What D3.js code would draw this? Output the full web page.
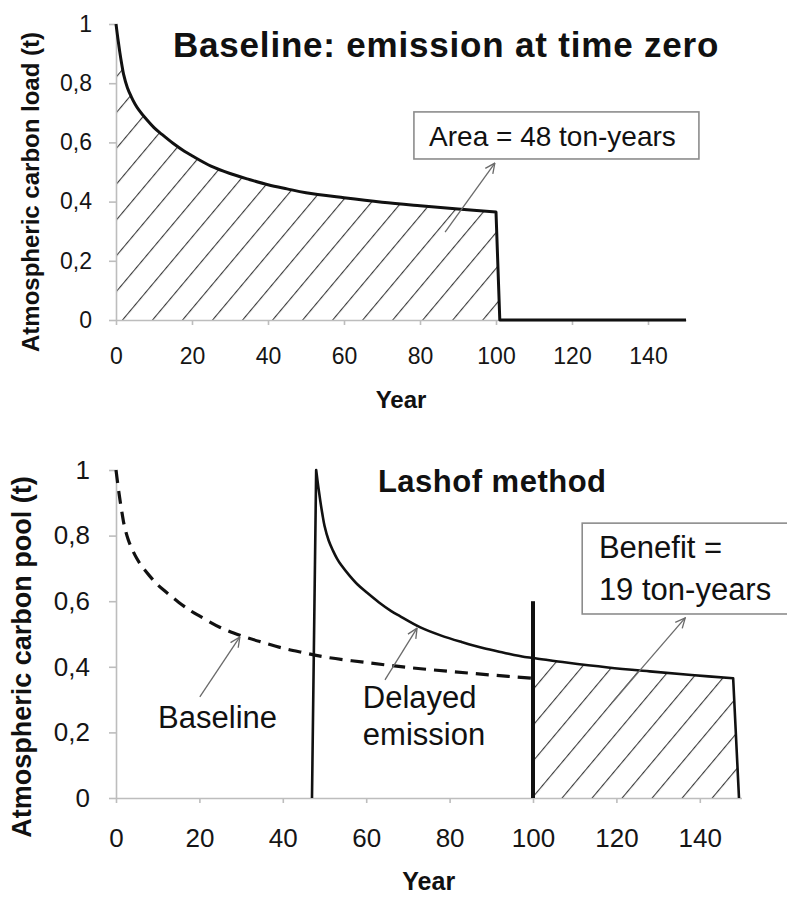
<!DOCTYPE html>
<html><head><meta charset="utf-8">
<script src="https://cdn.jsdelivr.net/npm/d3@7"></script>
<style>
html,body{margin:0;padding:0;background:#fff;}
svg{display:block;}
text{font-family:"Liberation Sans",Arial,sans-serif;}
</style></head>
<body>
<script>
// ---- data ----
const baselineYears  = [0, 0.5, 1, 1.5, 2, 3, 4, 5, 6, 8, 10, 12, 15, 18, 20, 25, 30, 35, 40, 45, 50, 60, 70, 80, 90, 100];
const baselineValues = [1.0, 0.95, 0.905, 0.865, 0.83, 0.785, 0.755, 0.73, 0.71, 0.678, 0.65, 0.628, 0.597, 0.57, 0.555, 0.52, 0.495, 0.475, 0.457, 0.443, 0.43, 0.413, 0.398, 0.386, 0.375, 0.365];
const baselineEndYear = 101;      // load returns to zero
const topAxisEndYear = 150;

const delayedRiseYears  = [47, 48];
const delayedRiseValues = [0, 1.0];
const delayedYears  = [48, 48.5, 49, 49.5, 50, 51, 52, 53, 54, 56, 58, 60, 63, 66, 68, 73, 78, 83, 88, 93, 98, 100, 108, 118, 128, 138, 148];
const delayedValues = [1.0, 0.95, 0.905, 0.865, 0.83, 0.785, 0.755, 0.73, 0.71, 0.678, 0.65, 0.628, 0.597, 0.57, 0.555, 0.52, 0.495, 0.475, 0.457, 0.443, 0.43, 0.427, 0.413, 0.398, 0.386, 0.375, 0.365];
const delayedEndYear = 149.4;
const cutoffYear = 100;            // end of time horizon
const cutoffMarkValue = 0.6;

const xTickValues = [0, 20, 40, 60, 80, 100, 120, 140];
const xTickLabels = ["0", "20", "40", "60", "80", "100", "120", "140"];
const yTickValues = [0, 0.2, 0.4, 0.6, 0.8, 1];
const yTickLabels = ["0", "0,2", "0,4", "0,6", "0,8", "1"];

const topTitle = "Baseline: emission at time zero";
const botTitle = "Lashof method";
const topYLabel = "Atmospheric carbon load (t)";
const botYLabel = "Atmospheric carbon pool (t)";
const xLabel = "Year";
const areaLabel = "Area = 48 ton-years";
const benefitLabel = ["Benefit =", "19 ton-years"];
const baselineLabel = "Baseline";
const delayedLabel = ["Delayed", "emission"];

// ---- layout ----
const W = 787, H = 897;
const svg = d3.select("body").append("svg").attr("width", W).attr("height", H);
const defs = svg.append("defs");

const hatch = defs.append("pattern").attr("id", "hatch").attr("patternUnits", "userSpaceOnUse")
  .attr("width", 23).attr("height", 20).attr("patternTransform", "rotate(40)");
hatch.append("line").attr("x1", 0).attr("y1", -5).attr("x2", 0).attr("y2", 25)
  .attr("stroke", "#3a3a3a").attr("stroke-width", 2.2);

const marker = defs.append("marker").attr("id", "arrow").attr("viewBox", "0 0 10 10")
  .attr("refX", 9.5).attr("refY", 5).attr("markerWidth", 11).attr("markerHeight", 11)
  .attr("markerUnits", "userSpaceOnUse").attr("orient", "auto");
marker.append("path").attr("d", "M0.5,0.8 L9.5,5 L0.5,9.2").attr("fill", "none")
  .attr("stroke", "#6a6a6a").attr("stroke-width", 1.2);

const baseline = baselineYears.map((t, i) => ({t, v: baselineValues[i]}));
const delayed = delayedYears.map((t, i) => ({t, v: delayedValues[i]}));
const rise = delayedRiseYears.map((t, i) => ({t, v: delayedRiseValues[i]}));

const smooth = d3.curveCatmullRom.alpha(0.5);

function drawAxes(g, x, y, o) {
  const ax = g.append("g").attr("transform", `translate(0,${y(0)})`)
    .call(d3.axisBottom(x).tickValues(xTickValues).tickFormat((d, i) => xTickLabels[i])
      .tickSizeOuter(0).tickSizeInner(5).tickPadding(o.xPad));
  const ay = g.append("g").attr("transform", `translate(${x(0)},0)`)
    .call(d3.axisLeft(y).tickValues(yTickValues).tickFormat((d, i) => yTickLabels[i])
      .tickSizeOuter(0).tickSizeInner(7).tickPadding(o.yPad));
  [ax, ay].forEach(a => {
    a.select(".domain").attr("stroke", "#bdbdbd").attr("stroke-width", 1.6);
    a.selectAll(".tick line").attr("stroke", "#bdbdbd").attr("stroke-width", 1.6);
    a.selectAll(".tick text").attr("fill", "#151515").style("font-size", o.fs + "px")
      .style("font-family", '"Liberation Sans",Arial,sans-serif');
  });
}

function arrow(g, x, y, a) {
  g.append("line").attr("x1", x(a[0])).attr("y1", y(a[1])).attr("x2", x(a[2])).attr("y2", y(a[3]))
    .attr("stroke", "#6a6a6a").attr("stroke-width", 1.3).attr("marker-end", "url(#arrow)");
}

// ================= TOP CHART =================
const xT = d3.scaleLinear().domain([0, 150]).range([116, 686]);
const yT = d3.scaleLinear().domain([0, 1]).range([320, 24]);
const gT = svg.append("g");

const lineT = d3.line().x(d => xT(d.t)).y(d => yT(d.v)).curve(smooth);
const curveT = lineT(baseline);
gT.append("path")
  .attr("d", curveT + `L${xT(baselineEndYear)},${yT(0)}L${xT(0)},${yT(0)}Z`)
  .attr("fill", "url(#hatch)").attr("stroke", "none");

drawAxes(gT, xT, yT, {xPad: 23, yPad: 17, fs: 23});

gT.append("path")
  .attr("d", curveT + `L${xT(baselineEndYear)},${yT(0)}L${xT(topAxisEndYear)},${yT(0)}`)
  .attr("fill", "none").attr("stroke", "#111").attr("stroke-width", 3).attr("stroke-linejoin", "round");

gT.append("text").attr("x", xT(15)).attr("y", yT(0.889)).text(topTitle)
  .style("font-size", "35px").style("font-weight", "bold").style("letter-spacing", "0.8px").attr("fill", "#111");

gT.append("text").attr("transform", `translate(39,${(yT(0) + yT(1)) / 2 + 20}) rotate(-90)`)
  .attr("text-anchor", "middle").text(topYLabel)
  .style("font-size", "24px").style("font-weight", "bold").attr("fill", "#111");

gT.append("text").attr("x", (xT(0) + xT(150)) / 2).attr("y", 408).attr("text-anchor", "middle")
  .text(xLabel).style("font-size", "24px").style("font-weight", "bold").attr("fill", "#111");

gT.append("rect").attr("x", xT(78.4)).attr("y", yT(0.703)).attr("width", xT(153.4) - xT(78.4))
  .attr("height", yT(0.544) - yT(0.703)).attr("fill", "#fff").attr("stroke", "#8c8c8c").attr("stroke-width", 1.6);
gT.append("text").attr("x", xT(82.4)).attr("y", yT(0.588)).text(areaLabel)
  .style("font-size", "28px").attr("fill", "#111");
arrow(gT, xT, yT, [86.6, 0.297, 99.7, 0.53]);

// ================= BOTTOM CHART =================
const xB = d3.scaleLinear().domain([0, 150]).range([116, 741.5]);
const yB = d3.scaleLinear().domain([0, 1]).range([798, 470]);
const gB = svg.append("g");

const lineB = d3.line().x(d => xB(d.t)).y(d => yB(d.v)).curve(smooth);
const linLineB = d3.line().x(d => xB(d.t)).y(d => yB(d.v));
const delayedCurve = lineB(delayed);

defs.append("clipPath").attr("id", "afterCut").append("rect")
  .attr("x", xB(cutoffYear)).attr("y", 0).attr("width", xB(150) - xB(cutoffYear)).attr("height", H);
gB.append("path")
  .attr("d", delayedCurve + `L${xB(delayedEndYear)},${yB(0)}L${xB(delayedYears[0])},${yB(0)}Z`)
  .attr("fill", "url(#hatch)").attr("clip-path", "url(#afterCut)");

drawAxes(gB, xB, yB, {xPad: 26, yPad: 19, fs: 26});

gB.append("path").attr("d", lineB(baseline)).attr("fill", "none").attr("stroke", "#111")
  .attr("stroke-width", 3.2).attr("stroke-dasharray", "13,8");
gB.append("path").attr("d", linLineB(rise) + "L" + delayedCurve.slice(1) +
    `L${xB(delayedEndYear)},${yB(0)}`)
  .attr("fill", "none").attr("stroke", "#111").attr("stroke-width", 2.6).attr("stroke-linejoin", "round");
gB.append("line").attr("x1", xB(cutoffYear)).attr("x2", xB(cutoffYear))
  .attr("y1", yB(0)).attr("y2", yB(cutoffMarkValue)).attr("stroke", "#111").attr("stroke-width", 4);

gB.append("text").attr("x", xB(62.8)).attr("y", yB(0.933)).text(botTitle)
  .style("font-size", "31px").style("font-weight", "bold").style("letter-spacing", "0.5px").attr("fill", "#111");

gB.append("text").attr("transform", `translate(31,${(yB(0) + yB(1)) / 2 + 23}) rotate(-90)`)
  .attr("text-anchor", "middle").text(botYLabel)
  .style("font-size", "27px").style("font-weight", "bold").attr("fill", "#111");

gB.append("text").attr("x", (xB(0) + xB(150)) / 2).attr("y", 890).attr("text-anchor", "middle")
  .text(xLabel).style("font-size", "25px").style("font-weight", "bold").attr("fill", "#111");

gB.append("rect").attr("x", xB(111.8)).attr("y", yB(0.838)).attr("width", xB(166) - xB(111.8))
  .attr("height", yB(0.561) - yB(0.838)).attr("fill", "#fff").attr("stroke", "#8c8c8c").attr("stroke-width", 1.6);
gB.append("text").attr("x", xB(115.8)).attr("y", yB(0.732)).text(benefitLabel[0])
  .style("font-size", "31px").attr("fill", "#111");
gB.append("text").attr("x", xB(115.8)).attr("y", yB(0.604)).text(benefitLabel[1])
  .style("font-size", "31px").attr("fill", "#111");
arrow(gB, xB, yB, [118.9, 0.29, 136.5, 0.549]);

gB.append("text").attr("x", xB(10.1)).attr("y", yB(0.213)).text(baselineLabel)
  .style("font-size", "31px").attr("fill", "#111");
arrow(gB, xB, yB, [20.1, 0.308, 29.7, 0.491]);

gB.append("text").attr("x", xB(59.2)).attr("y", yB(0.274)).text(delayedLabel[0])
  .style("font-size", "31px").attr("fill", "#111");
gB.append("text").attr("x", xB(59.2)).attr("y", yB(0.162)).text(delayedLabel[1])
  .style("font-size", "31px").attr("fill", "#111");
arrow(gB, xB, yB, [64.5, 0.36, 72.2, 0.518]);
</script>
</body></html>
